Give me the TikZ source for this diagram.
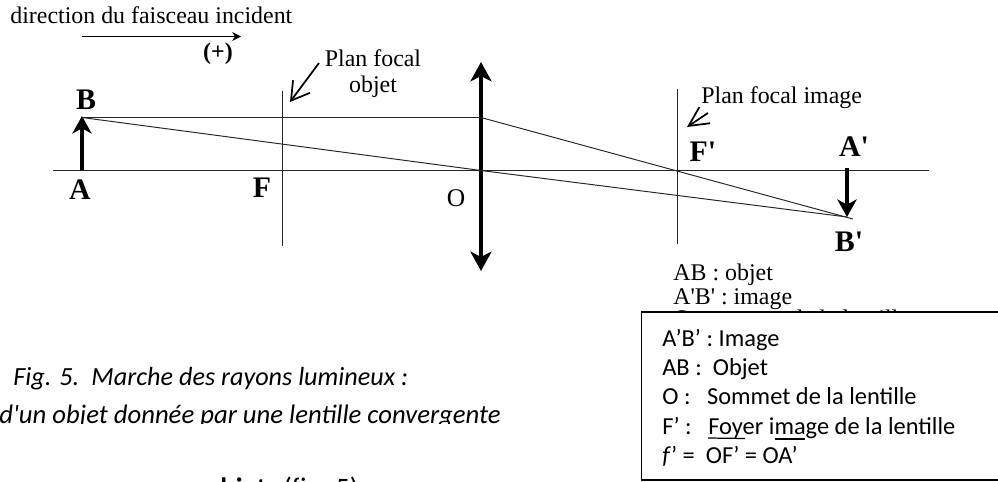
\documentclass[tikz,border=0pt]{standalone}
\usepackage{fontspec}
\newfontfamily\timesfont{Liberation Serif}
\newfontfamily\boxfont{Carlito}
\usetikzlibrary{arrows.meta}
\tikzset{
    thinline/.style={draw=black!85,line width=0.55pt},
    objarrow/.style={line width=2.2pt,-{Stealth[length=10pt,width=11pt,inset=3pt]}},
    boldlabel/.style={font=\timesfont\bfseries\fontsize{17}{18}\selectfont,inner sep=0pt},
    romanlabel/.style={font=\timesfont\fontsize{13.6}{15}\selectfont,inner sep=0pt},
    boxline/.style={font=\boxfont\fontsize{13.9}{15}\selectfont,inner sep=0pt,anchor=base west},
    captionline/.style={font=\boxfont\itshape\fontsize{14.9}{17}\selectfont,inner sep=0pt,anchor=base west}
}
\begin{document}
\begin{tikzpicture}[x=0.02cm,y=-0.02cm]
    \useasboundingbox (0,0) rectangle (998,481);
    % top direction
    \node[romanlabel,anchor=base west] (dirtext) at (10,23) {direction du faisceau incident};
    \coordinate (dirL) at (82,36.5);
    \coordinate (dirR) at (241,36.5);
    \draw[line width=0.9pt,-{Stealth[length=5pt,width=5pt]}] (dirL) -- (dirR);
    \node[romanlabel,font=\timesfont\bfseries\fontsize{13.6}{15}\selectfont] (plus) at (218,54) {(+)};
    % axis and focal planes
    \coordinate (axisL) at (53,170.5);
    \coordinate (axisR) at (929,170.5);
    \draw[thinline] (axisL) -- (axisR);
    \coordinate (Ftop) at (282.5,91);
    \coordinate (Fbot) at (282.5,246);
    \draw[thinline] (Ftop) -- (Fbot);
    \coordinate (Fptop) at (677,89);
    \coordinate (Fpbot) at (677,244);
    \draw[thinline] (Fptop) -- (Fpbot);
    % lens
    \coordinate (lensC) at (481,170.5);
    \coordinate (lensT) at (481,62);
    \coordinate (lensB) at (481,271);
    \draw[line width=2.4pt,{Stealth[length=11pt,width=12pt,inset=3pt]}-{Stealth[length=11pt,width=12pt,inset=3pt]}] (lensB) -- (lensT);
    % object and image
    \coordinate (A) at (82,170);
    \coordinate (B) at (82,116);
    \coordinate (Ap) at (847,168);
    \coordinate (Bp) at (847,217);
    \coordinate (rayS) at (82,117.5);
    \coordinate (rayI) at (481,117.5);
    \coordinate (rayE) at (853,219);
    \draw[objarrow] (A) -- (B);
    \draw[objarrow] (Ap) -- (Bp);
    % rays
    \draw[thinline] (rayS) -- (rayI) -- (rayE);
    \draw[thinline] (rayS) -- (lensC) -- (Bp);
    % leaders
    \coordinate (pfoT) at (319,63);
    \coordinate (pfoH) at (290,102);
    \draw[line width=1pt,-{Straight Barb[length=10pt,width=12pt]}] (pfoT) -- (pfoH);
    \coordinate (pfiT) at (708,113);
    \coordinate (pfiH) at (687,127);
    \draw[line width=1pt,-{Straight Barb[length=11pt,width=11pt]}] (pfiT) -- (pfiH);
    % labels
    \node[boldlabel] (labB) at (86,100) {B};
    \node[boldlabel] (labA) at (80,190) {A};
    \node[boldlabel] (labF) at (262,188) {F};
    \node[romanlabel,font=\timesfont\fontsize{14.5}{16}\selectfont] (labO) at (456,198) {O};
    \node[boldlabel] (labFp) at (703,152) {F'};
    \node[boldlabel] (labAp) at (854,147) {A'};
    \node[boldlabel] (labBp) at (849,242) {B'};
    \node[romanlabel] (pfo1) at (373,58) {Plan focal};
    \node[romanlabel] (pfo2) at (373,87) {objet};
    \node[romanlabel,anchor=base west] (pfi) at (701,103) {Plan focal image};
    % old legend behind the box
    \node[romanlabel,anchor=base west] (leg1) at (673,280) {AB : objet};
    \node[romanlabel,anchor=base west] (leg2) at (673,304) {A'B' : image};
    \node[romanlabel,anchor=base west] (leg3) at (673,326) {O : sommet de la lentille};
    % legend box
    \draw[line width=0.9pt,fill=white] (641.5,312) rectangle (1005,480);
    \node[boxline] (bx1) at (662,346) {A’B’ : Image};
    \node[boxline] (bx2) at (662,375) {AB :\ \ Objet};
    \node[boxline] (bx3) at (662,404) {O :\ \ \ Sommet de la lentille};
    \node[boxline] (bx4) at (662,434) {F’ :\ \ \ Foyer image de la lentille};
    \node[boxline] (bx5) at (662,463) {\textit{f}’\ =\ \ OF’ = OA’};
    \coordinate (ulAa) at (708,438);
    \coordinate (ulAb) at (745,438.5);
    \draw[line width=0.7pt] (ulAa) -- (ulAb);
    \coordinate (ulBa) at (775,439);
    \coordinate (ulBb) at (805,439);
    \draw[line width=0.9pt] (ulBa) -- (ulBb);
    % caption
    \node[captionline] (cap1) at (13,385) {Fig. 5.\hspace{7pt}Marche des rayons lumineux :};
    \begin{scope}
        \clip (0,400) rectangle (520,423);
        \node[captionline,font=\boxfont\itshape\fontsize{15.2}{17}\selectfont] (cap2) at (-1,423) {d'un objet donnée par une lentille convergente};
    \end{scope}
    % cut off line at the bottom
    \begin{scope}
        \clip (0,470) rectangle (520,481);
        \node[captionline,font=\boxfont\bfseries\fontsize{16}{18}\selectfont] (cut1) at (205,497) {objet};
        \node[captionline,font=\boxfont\fontsize{16}{18}\selectfont] (cut2) at (283,497) {(fig. 5)};
    \end{scope}
\end{tikzpicture}
\end{document}
